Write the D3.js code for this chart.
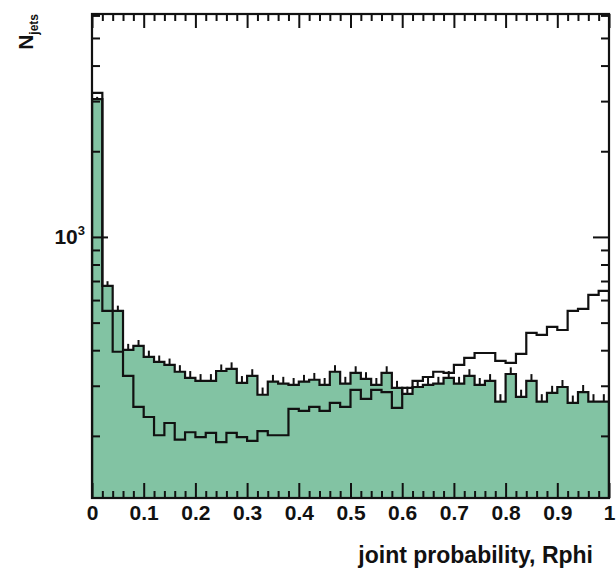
<!DOCTYPE html>
<html>
<head>
<meta charset="utf-8">
<script src="https://cdn.jsdelivr.net/npm/d3@7"></script>
<style>
  html, body { margin: 0; padding: 0; background: #ffffff; }
  svg { display: block; }
  text { font-family: "Liberation Sans", Arial, sans-serif; fill: #111; }
</style>
</head>
<body>
<svg id="chart" width="616" height="573"></svg>
<script>
// ---- data ----
const binEdgesMin = 0;
const binEdgesMax = 1;
const nBins = 50;
// filled (green) histogram, with sqrt(N) error bars
const filledCounts = [
  3050, 673, 550, 401, 414, 379, 364, 355, 336, 320,
  312, 312, 338, 344, 307, 325, 279, 310, 305, 302,
  310, 315, 302, 336, 305, 333, 317, 302, 333, 295,
  281, 297, 302, 305, 320, 305, 325, 302, 312, 264,
  330, 274, 312, 264, 283, 297, 261, 285, 264, 264
];
// outline (open) histogram
const outlineCounts = [
  3205, 550, 395, 325, 253, 233, 201, 222, 194, 206,
  198, 205, 190, 205, 198, 192, 208, 201, 201, 249,
  245, 253, 245, 261, 253, 290, 270, 290, 285, 251,
  295, 312, 322, 336, 333, 355, 376, 391, 391, 367,
  361, 388, 460, 453, 483, 471, 550, 559, 626, 646
];
const xMajorTicks = [0, 0.1, 0.2, 0.3, 0.4, 0.5, 0.6, 0.7, 0.8, 0.9, 1];
const xTickLabels = ["0", "0.1", "0.2", "0.3", "0.4", "0.5", "0.6", "0.7", "0.8", "0.9", "1"];
const xMinorStep = 0.02;
const yMajorTicks = [1000];
const yMinorTicks = [200, 300, 400, 500, 600, 700, 800, 900, 2000, 3000, 4000, 5000, 6000];
const yDomain = [121, 6070];
const xTitle = "joint probability, Rphi";
const yTitle = "N";
const yTitleSub = "jets";

// ---- layout ----
const L = 92, R = 609, T = 14, B = 498;
const fillColor = "#82c3a3";
const ink = "#111111";

const svg = d3.select("#chart");
const x = d3.scaleLinear().domain([binEdgesMin, binEdgesMax]).range([L, R]);
const y = d3.scaleLog().domain(yDomain).range([B, T]);
const bw = (binEdgesMax - binEdgesMin) / nBins;

function stepPoints(counts) {
  const out = [];
  counts.forEach((c, i) => {
    out.push([binEdgesMin + i * bw, c]);
    out.push([binEdgesMin + (i + 1) * bw, c]);
  });
  return out;
}

const plot = svg.append("g");
plot.append("clipPath").attr("id", "clip").append("rect")
  .attr("x", L).attr("y", T).attr("width", R - L).attr("height", B - T);
const g = plot.append("g").attr("clip-path", "url(#clip)");

const fillPts = stepPoints(filledCounts);
const area = d3.area().x(d => x(d[0])).y0(B).y1(d => y(d[1]));
g.append("path").datum(fillPts).attr("d", area).attr("fill", fillColor);

const line = d3.line().x(d => x(d[0])).y(d => y(d[1]));
function closedLine(pts) {
  const first = pts[0], last = pts[pts.length - 1];
  return "M" + x(first[0]) + "," + B + "L" + line(pts).slice(1) + "L" + x(last[0]) + "," + B;
}
g.append("path").attr("d", closedLine(fillPts))
  .attr("fill", "none").attr("stroke", ink).attr("stroke-width", 2.2).attr("stroke-linejoin", "miter");

// error bars (upper half visible above the top)
g.selectAll("line.err").data(filledCounts).enter().append("line")
  .attr("class", "err")
  .attr("x1", (d, i) => x(binEdgesMin + (i + 0.5) * bw))
  .attr("x2", (d, i) => x(binEdgesMin + (i + 0.5) * bw))
  .attr("y1", d => y(d))
  .attr("y2", d => y(d + Math.sqrt(d)))
  .attr("stroke", ink).attr("stroke-width", 2);

const outPts = stepPoints(outlineCounts);
g.append("path").attr("d", closedLine(outPts))
  .attr("fill", "none").attr("stroke", ink).attr("stroke-width", 2.2).attr("stroke-linejoin", "miter");

// ---- axes / ticks ----
const xMinor = d3.range(0, 50 + 1).map(i => +(i * xMinorStep).toFixed(2)).filter(v => !xMajorTicks.some(m => Math.abs(m - v) < 1e-9));

function styleAxis(sel) {
  sel.select(".domain").remove();
  sel.selectAll(".tick line").attr("stroke", ink).attr("stroke-width", 2);
}

// bottom
const bottomMajor = svg.append("g").attr("transform", `translate(0,${B})`)
  .call(d3.axisBottom(x).tickValues(xMajorTicks).tickSizeInner(-15).tickSizeOuter(0).tickPadding(7)
    .tickFormat((d, i) => xTickLabels[i]));
styleAxis(bottomMajor);
bottomMajor.selectAll(".tick text").attr("font-size", 21).attr("font-weight", "bold").attr("fill", ink)
  .attr("font-family", "Liberation Sans, Arial, sans-serif");
const bottomMinor = svg.append("g").attr("transform", `translate(0,${B})`)
  .call(d3.axisBottom(x).tickValues(xMinor).tickSizeInner(-7).tickSizeOuter(0).tickFormat(""));
styleAxis(bottomMinor);

// top
const topMajor = svg.append("g").attr("transform", `translate(0,${T})`)
  .call(d3.axisTop(x).tickValues(xMajorTicks).tickSizeInner(-14).tickSizeOuter(0).tickFormat(""));
styleAxis(topMajor);
const topMinor = svg.append("g").attr("transform", `translate(0,${T})`)
  .call(d3.axisTop(x).tickValues(xMinor).tickSizeInner(-7).tickSizeOuter(0).tickFormat(""));
styleAxis(topMinor);

// left
const leftMajor = svg.append("g").attr("transform", `translate(${L},0)`)
  .call(d3.axisLeft(y).tickValues(yMajorTicks).tickSizeInner(-16).tickSizeOuter(0).tickFormat(""));
styleAxis(leftMajor);
const leftMinor = svg.append("g").attr("transform", `translate(${L},0)`)
  .call(d3.axisLeft(y).tickValues(yMinorTicks).tickSizeInner(-8).tickSizeOuter(0).tickFormat(""));
styleAxis(leftMinor);
// right
const rightMajor = svg.append("g").attr("transform", `translate(${R},0)`)
  .call(d3.axisRight(y).tickValues(yMajorTicks).tickSizeInner(-16).tickSizeOuter(0).tickFormat(""));
styleAxis(rightMajor);
const rightMinor = svg.append("g").attr("transform", `translate(${R},0)`)
  .call(d3.axisRight(y).tickValues(yMinorTicks).tickSizeInner(-8).tickSizeOuter(0).tickFormat(""));
styleAxis(rightMinor);

// y label 10^3
yMajorTicks.forEach(v => {
  const t = svg.append("text").attr("x", L - 7).attr("y", y(v) + 7)
    .attr("text-anchor", "end").attr("font-size", 21).attr("font-weight", "bold");
  t.append("tspan").text("10");
  t.append("tspan").attr("font-size", 13).attr("dy", -9).text(String(Math.round(Math.log10(v))));
});

// frame
svg.append("rect").attr("x", L).attr("y", T).attr("width", R - L).attr("height", B - T)
  .attr("fill", "none").attr("stroke", ink).attr("stroke-width", 2.2);

// titles
svg.append("text").attr("x", 593).attr("y", 563).attr("text-anchor", "end")
  .attr("font-size", 23).attr("font-weight", "bold").text(xTitle);

const yt = svg.append("text").attr("transform", `translate(33,${T}) rotate(-90)`)
  .attr("text-anchor", "end").attr("font-size", 21).attr("font-weight", "bold");
yt.append("tspan").text(yTitle);
yt.append("tspan").attr("font-size", 12).attr("dy", 5).text(yTitleSub);
</script>
</body>
</html>
